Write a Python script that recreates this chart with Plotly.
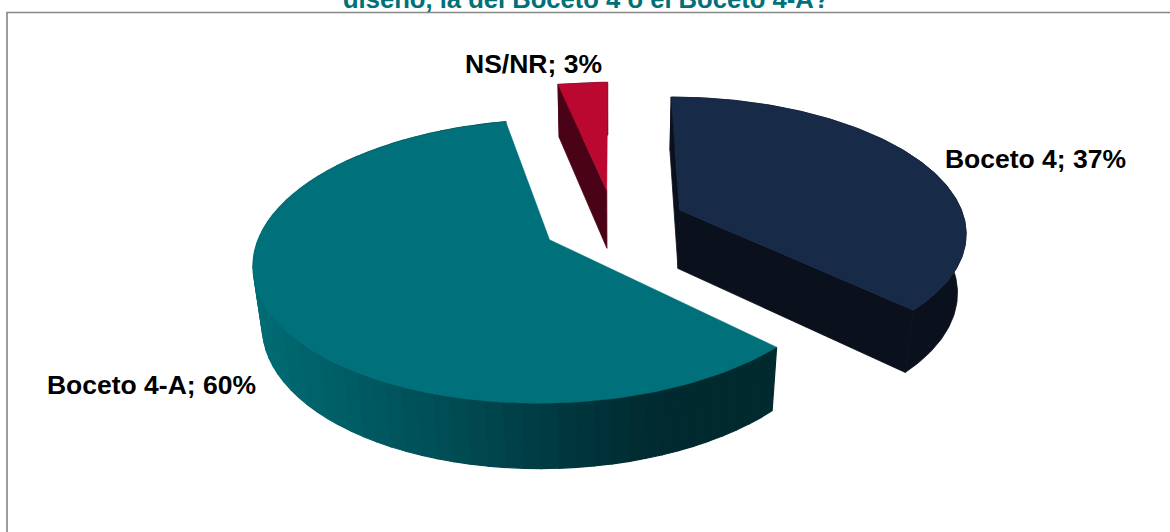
import numpy as np
import plotly.graph_objects as go

# ---- data ----
categories = ["Boceto 4", "Boceto 4-A", "NS/NR"]
values = [37.2, 59.5, 3.3]
title_text = "diseño, la del Boceto 4 o el Boceto 4-A?"

# ---- styles ----
top_colors = ["#172A47", "#00707A", "#BA0830"]
side_colors = ["#0A101C", None, "#4A0216"]
teal_side_stops_x = [255, 350, 450, 540, 640, 700, 780]
teal_side_stops_rgb = [(0, 108, 116), (0, 92, 100), (0, 76, 84), (0, 60, 68), (0, 44, 50), (0, 42, 46), (0, 42, 46)]
label_pos = [(1035.5, 161), (151.5, 387), (533.5, 66)]
FONT = "Liberation Sans, Arial, sans-serif"
W, H_PAGE = 1170, 532

# ---- 3D projection parameters (pixels) ----
PX, PY = 614.0, 223.0
A, B, DEPTH = 286.0, 133.5, 60.5
K, M = 0.15, 0.025
EXPLODE = 0.253


def project(x, y, z):
    w = 1 + K * y + M * z
    return PX + A * x / w, PY - B * y / w + DEPTH * z / w


def poly(xs, ys, color, lw=0.8):
    return go.Scatter(
        x=list(xs) + [xs[0]], y=list(ys) + [ys[0]], mode="lines", fill="toself",
        fillcolor=color, line=dict(color=color, width=lw), hoverinfo="skip", showlegend=False,
    )


fig = go.Figure()
total = sum(values)
start = 0.0
slices = []
for name, v in zip(categories, values):
    end = start + v / total * 2 * np.pi
    slices.append((name, start, end))
    start = end

for i, (name, t0, t1) in enumerate(slices):
    mid = (t0 + t1) / 2
    ox, oy = EXPLODE * np.sin(mid), EXPLODE * np.cos(mid)
    th = np.linspace(t0, t1, 160)
    rx, ry = ox + np.sin(th), oy + np.cos(th)

    # straight cut faces turned to the viewer
    for t in (t0, t1):
        ex, ey = ox + np.sin(t), oy + np.cos(t)
        p = [project(ox, oy, 0), project(ex, ey, 0), project(ex, ey, 1), project(ox, oy, 1)]
        visible = (name == "Boceto 4") or (name == "NS/NR" and t == t0)
        if visible:
            fig.add_trace(poly([q[0] for q in p], [q[1] for q in p], side_colors[i]))

    # outer wall
    if side_colors[i]:
        tx, ty = project(rx, ry, 0)
        bx, by = project(rx, ry, 1)
        fig.add_trace(poly(list(tx) + list(bx[::-1]), list(ty) + list(by[::-1]), side_colors[i]))
    else:
        n = 70
        edges = np.linspace(t0, t1, n + 1)
        for a0, a1 in zip(edges[:-1], edges[1:]):
            seg = np.linspace(a0, a1, 4)
            sx_, sy_ = ox + np.sin(seg), oy + np.cos(seg)
            tx, ty = project(sx_, sy_, 0)
            bx, by = project(sx_, sy_, 1)
            xm = float(np.mean(tx))
            rgb = [int(np.interp(xm, teal_side_stops_x, [s[j] for s in teal_side_stops_rgb])) for j in range(3)]
            col = "rgb(%d,%d,%d)" % tuple(rgb)
            fig.add_trace(poly(list(tx) + list(bx[::-1]), list(ty) + list(by[::-1]), col, 1.2))

    # top face
    tx, ty = project(rx, ry, 0)
    ax_, ay_ = project(ox, oy, 0)
    fig.add_trace(poly([ax_] + list(tx), [ay_] + list(ty), top_colors[i], 0.5))

# data labels
for (name, t0, t1), v, pos in zip(slices, values, label_pos):
    fig.add_trace(go.Scatter(
        x=[pos[0]], y=[pos[1]], mode="text", text=[f"<b>{name}; {v:.0f}%</b>"],
        textposition="middle center", textfont=dict(family=FONT, size=26.5, color="#000000"),
        hoverinfo="skip", showlegend=False, cliponaxis=False,
    ))

fig.update_layout(
    width=W, height=H_PAGE, margin=dict(l=0, r=0, t=0, b=0),
    paper_bgcolor="#FFFFFF", plot_bgcolor="#FFFFFF", showlegend=False,
    title=dict(text=f"<b>{title_text}</b>", x=0.501, xanchor="center", xref="paper",
               y=0.985, yanchor="bottom", yref="container",
               font=dict(family=FONT, size=25.6, color="#00707A")),
    xaxis=dict(range=[0, W], visible=False, fixedrange=True),
    yaxis=dict(range=[H_PAGE, 0], visible=False, fixedrange=True),
    shapes=[dict(type="rect", xref="x", yref="y", x0=7, y0=12.5, x1=W + 20, y1=H_PAGE + 20,
                 line=dict(color="#868686", width=1.6), fillcolor="rgba(0,0,0,0)", layer="below")],
)
fig.write_html("out.html", config=dict(displayModeBar=False),
               post_script="document.body.style.margin='0';document.body.style.overflow='hidden';")
